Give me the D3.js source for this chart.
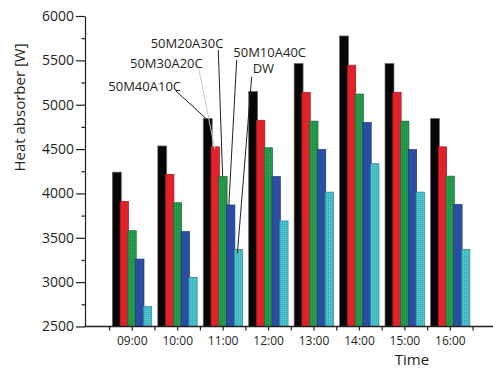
<!DOCTYPE html>
<html>
<head>
<meta charset="utf-8">
<script src="https://cdn.jsdelivr.net/npm/d3@7"></script>
<style>
  body { margin: 0; background: #fff; }
  text { font-family: "Open Sans", sans-serif; fill: #231f20; }
</style>
</head>
<body>
<div id="chart"></div>
<script>
// data
var hours = [9, 10, 11, 12, 13, 14, 15, 16];
var hourLabels = ["09:00", "10:00", "11:00", "12:00", "13:00", "14:00", "15:00", "16:00"];
var seriesNames = ["50M40A10C", "50M30A20C", "50M20A30C", "50M10A40C", "DW"];
var s50M40A10C = [4240, 4535, 4845, 5150, 5465, 5775, 5465, 4845];
var s50M30A20C = [3910, 4215, 4525, 4825, 5140, 5445, 5140, 4525];
var s50M20A30C = [3580, 3895, 4190, 4515, 4815, 5120, 4815, 4195];
var s50M10A40C = [3260, 3570, 3870, 4190, 4495, 4800, 4495, 3875];
var sDW        = [2725, 3055, 3370, 3690, 4015, 4335, 4015, 3370];
var yTicks = [2500, 3000, 3500, 4000, 4500, 5000, 5500, 6000];
var colors = ["#060606", "#e2222a", "#23994a", "#2a4ea3", "#46bfca"];

var seriesValues = [s50M40A10C, s50M30A20C, s50M20A30C, s50M10A40C, sDW];

var width = 493, height = 369;

var svg = d3.select("#chart")
    .append("svg")
    .attr("width", width)
    .attr("height", height);

// scales
var x = d3.scaleLinear()
    .domain([8, 17])
    .range([86.3, 495.3]);

var y = d3.scaleLinear()
    .domain([2500, 6000])
    .range([326.5, 16]);

var inner = d3.scaleBand()
    .domain(seriesNames)
    .range([-19.4, 19.4]);

// texture for green and cyan bars
var defs = svg.append("defs");
[2, 4].forEach(function(i) {
    var p = defs.append("pattern")
        .attr("id", "tex" + i)
        .attr("width", 2)
        .attr("height", 2)
        .attr("patternUnits", "userSpaceOnUse");
    p.append("rect").attr("width", 2).attr("height", 2).attr("fill", colors[i]);
    p.append("rect").attr("width", 1).attr("height", 1)
        .attr("fill", d3.color(colors[i]).darker(0.35));
    p.append("rect").attr("x", 1).attr("y", 1).attr("width", 1).attr("height", 1)
        .attr("fill", d3.color(colors[i]).brighter(0.2));
});

// bars
var rows = [];
seriesNames.forEach(function(name, si) {
    hours.forEach(function(h, hi) {
        rows.push({ series: name, si: si, hour: h, value: seriesValues[si][hi] });
    });
});

svg.append("g")
    .selectAll("rect")
    .data(rows)
    .enter()
    .append("rect")
    .attr("x", function(d) { return x(d.hour) + inner(d.series); })
    .attr("y", function(d) { return y(d.value); })
    .attr("width", function(d) { return d.si == 0 ? inner.bandwidth() + 1.2 : inner.bandwidth() + 0.6; })
    .attr("height", function(d) { return y(2500) - y(d.value); })
    .attr("fill", function(d) { return (d.si == 2 || d.si == 4) ? "url(#tex" + d.si + ")" : colors[d.si]; })
    .attr("stroke", function(d) { return d.si == 0 ? "#6d6d6d" : d3.color(colors[d.si]).darker(1); })
    .attr("stroke-width", 0.7);

// y axis, major ticks
var yAxis = svg.append("g")
    .attr("transform", "translate(85,0)")
    .call(d3.axisLeft(y).tickValues(yTicks).tickFormat(d3.format("d"))
        .tickSize(9).tickSizeOuter(0).tickPadding(2));
yAxis.selectAll("text")
    .style("font-family", "'Open Sans', sans-serif")
    .style("font-size", "14px")
    .attr("fill", "#231f20");
yAxis.selectAll("line, path").attr("stroke", "#231f20").attr("stroke-width", 1.2);

// minor y ticks
svg.append("g")
    .attr("transform", "translate(85,0)")
    .call(d3.axisLeft(y).tickValues(d3.range(2750, 6000, 500)).tickSize(3.5).tickFormat(""))
    .call(function(g) { g.select(".domain").remove(); })
    .selectAll("line").attr("stroke", "#231f20").attr("stroke-width", 1.2);

// x axis
var halfHours = d3.range(8.5, 17, 0.5);
var xAxis = svg.append("g")
    .attr("transform", "translate(0," + y(2500) + ")")
    .call(d3.axisBottom(x)
        .tickValues(halfHours)
        .tickSize(4)
        .tickPadding(6)
        .tickFormat(function(d) {
            var i = hours.indexOf(d);
            return i >= 0 ? hourLabels[i] : "";
        }));
xAxis.select(".domain").remove();
xAxis.selectAll("line").attr("stroke", "#231f20").attr("stroke-width", 1.2);
xAxis.selectAll("text")
    .style("font-family", "'Open Sans', sans-serif")
    .style("font-size", "12px")
    .attr("fill", "#231f20");

svg.append("line")
    .attr("x1", 84.4).attr("x2", 493)
    .attr("y1", y(2500)).attr("y2", y(2500))
    .attr("stroke", "#231f20")
    .attr("stroke-width", 1.3);

// axis titles
svg.append("text")
    .attr("transform", "translate(25," + 107.5 + ") rotate(-90)")
    .attr("text-anchor", "middle")
    .style("font-size", "15px")
    .text("Heat absorber [W]");

svg.append("text")
    .attr("x", 412)
    .attr("y", 364.6)
    .attr("text-anchor", "middle")
    .style("font-size", "15px")
    .text("Time");

// annotations pointing at the 11:00 bars
var annoHour = 11;
var annos = [
    { si: 0, tx: 108.3, ty: 90.7, lx: 176, ly: 91, dx: 0.35, dy: 0, col: "#231f20" },
    { si: 1, tx: 130, ty: 68.3, lx: 199, ly: 70, dx: 0.5, dy: 2.5, col: "#c8c8c8" },
    { si: 2, tx: 150.7, ty: 47.5, lx: 218.3, ly: 50, dx: 0.5, dy: 0, col: "#231f20" },
    { si: 3, tx: 233.3, ty: 56.7, lx: 236.7, ly: 60, dx: 0.3, dy: 0, col: "#231f20" },
    { si: 4, tx: 252.7, ty: 73.3, lx: 251.7, ly: 76.7, dx: 0.4, dy: 4, col: "#231f20" }
];
var ai = hours.indexOf(annoHour);

svg.append("g")
    .selectAll("line")
    .data(annos)
    .enter()
    .append("line")
    .attr("x1", function(d) { return d.lx; })
    .attr("y1", function(d) { return d.ly; })
    .attr("x2", function(d) { return x(annoHour) + inner(seriesNames[d.si]) + inner.bandwidth() * d.dx; })
    .attr("y2", function(d) { return y(seriesValues[d.si][ai]) + d.dy; })
    .attr("stroke", function(d) { return d.col; })
    .attr("stroke-width", 1);

svg.append("g")
    .selectAll("text")
    .data(annos)
    .enter()
    .append("text")
    .attr("x", function(d) { return d.tx; })
    .attr("y", function(d) { return d.ty; })
    .style("font-size", "13px")
    .text(function(d) { return seriesNames[d.si]; });
</script>
</body>
</html>
